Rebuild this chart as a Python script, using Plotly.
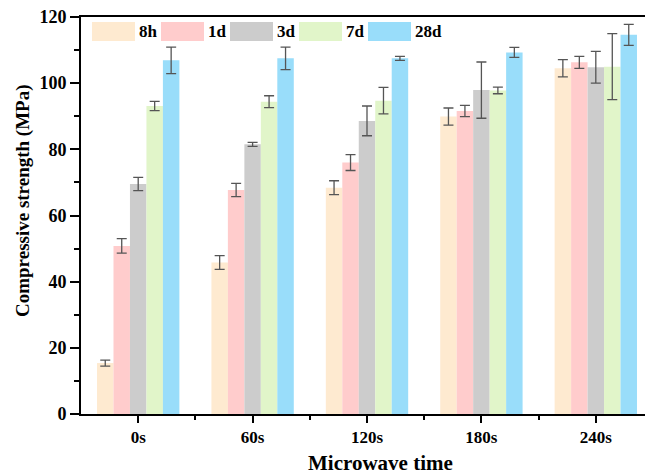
import plotly.graph_objects as go

categories = ["0s", "60s", "120s", "180s", "240s"]
series_names = ["8h", "1d", "3d", "7d", "28d"]
values = {
    "8h":  [15.4, 45.8, 68.4, 89.9, 104.5],
    "1d":  [50.8, 67.7, 76.0, 91.6, 106.3],
    "3d":  [69.5, 81.5, 88.6, 97.9, 104.8],
    "7d":  [93.1, 94.4, 94.7, 97.8, 105.0],
    "28d": [106.9, 107.5, 107.5, 109.3, 114.6],
}
errors = {
    "8h":  [0.9, 2.1, 2.1, 2.6, 2.6],
    "1d":  [2.2, 2.0, 2.4, 1.7, 1.8],
    "3d":  [2.0, 0.6, 4.5, 8.5, 4.8],
    "7d":  [1.4, 1.8, 4.0, 1.0, 10.0],
    "28d": [4.0, 3.4, 0.6, 1.5, 3.2],
}
colors = {
    "8h": "#FEEAD0",
    "1d": "#FFCCCC",
    "3d": "#CCCCCC",
    "7d": "#E1F5C9",
    "28d": "#99DDFA",
}

FONT = "Liberation Serif"
xpos = list(range(len(categories)))

fig = go.Figure()
for name in series_names:
    fig.add_trace(go.Bar(
        x=xpos, y=values[name], name=name,
        marker=dict(color=colors[name], line=dict(width=0)),
        error_y=dict(type="data", array=errors[name], visible=True,
                     color="#555555", thickness=1.3, width=5),
        showlegend=False,
    ))

W, H = 645, 474
ml, mr, mt, mb = 81, 0, 17, 60
pw, ph = W - ml - mr, H - mt - mb

# Legend drawn manually with wide swatches
leg_x0 = 92
leg_pitch = 69
sw_w, sw_top, sw_bot = 43, 22, 41
for i, name in enumerate(series_names):
    x0 = leg_x0 + i * leg_pitch
    fig.add_shape(type="rect", xref="paper", yref="paper",
                  x0=(x0 - ml) / pw, x1=(x0 + sw_w - ml) / pw,
                  y0=(H - mb - sw_bot) / ph, y1=(H - mb - sw_top) / ph,
                  fillcolor=colors[name], line=dict(width=0), layer="above")
    fig.add_annotation(xref="paper", yref="paper",
                       x=(x0 + sw_w + 2 - ml) / pw, y=(H - mb - 31.5) / ph,
                       text="<b>%s</b>" % name, showarrow=False,
                       xanchor="left", yanchor="middle",
                       font=dict(family=FONT, size=17, color="black"))

# Axis titles
fig.add_annotation(xref="paper", yref="paper",
                   x=(23 - ml) / pw, y=(H - mb - 201) / ph,
                   text="<b>Compressive strength (MPa)</b>", textangle=-90,
                   showarrow=False, xanchor="center", yanchor="middle",
                   font=dict(family=FONT, size=19, color="black"))
fig.add_annotation(xref="paper", yref="paper",
                   x=(380 - ml) / pw, y=(H - mb - 463) / ph,
                   text="<b>Microwave time</b>", showarrow=False,
                   xanchor="center", yanchor="middle",
                   font=dict(family=FONT, size=21, color="black"))

fig.update_layout(
    width=W, height=H,
    margin=dict(l=ml, r=mr, t=mt, b=mb),
    paper_bgcolor="white", plot_bgcolor="white",
    barmode="group", bargap=0.28, bargroupgap=0,
    font=dict(family=FONT, color="black"),
    xaxis=dict(
        range=[-0.5, 4.43], tickmode="array", tickvals=xpos,
        ticktext=["<b>%s</b>" % c for c in categories],
        tickfont=dict(family=FONT, size=17, color="black"),
        showline=True, linecolor="black", linewidth=2, mirror=True,
        ticks="outside", ticklen=7, tickwidth=2, tickcolor="black",
        showgrid=False, zeroline=False,
        minor=dict(tickmode="array", tickvals=[0.5, 1.5, 2.5, 3.5],
                   ticks="outside", ticklen=4, tickwidth=2, tickcolor="black"),
    ),
    yaxis=dict(
        range=[0, 120], tickmode="linear", tick0=0, dtick=20,
        tickprefix="<b>", ticksuffix="</b>",
        tickfont=dict(family=FONT, size=18, color="black"),
        showline=True, linecolor="black", linewidth=2, mirror=False,
        ticks="outside", ticklen=9, tickwidth=2, tickcolor="black",
        showgrid=False, zeroline=False,
        minor=dict(dtick=10, ticks="outside", ticklen=5, tickwidth=2,
                   tickcolor="black"),
    ),
)

fig.write_html("out.html")
